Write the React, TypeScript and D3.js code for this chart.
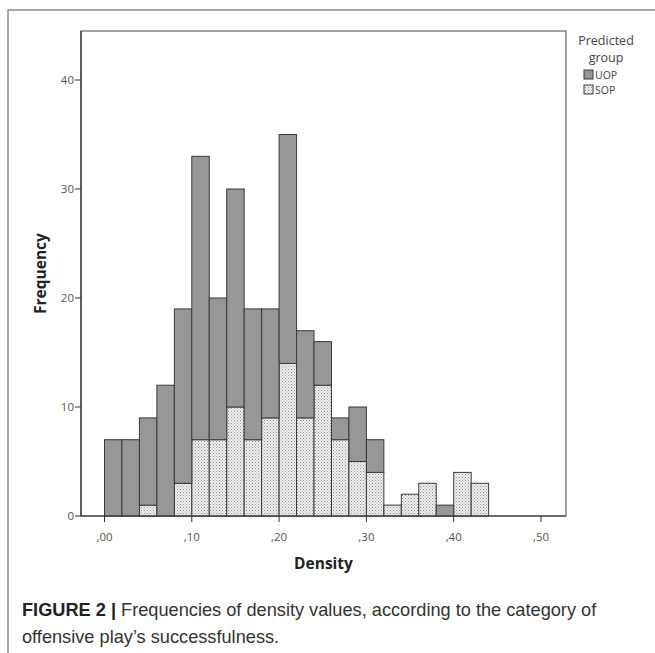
import * as d3 from 'd3';
import React, { useEffect, useRef } from 'react';

// bin starts (width .02), counts per predicted group
const binStarts = [0, .02, .04, .06, .08, .10, .12, .14, .16, .18, .20, .22, .24, .26, .28, .30, .32, .34, .36, .38, .40, .42];
const sopCounts = [0, 0, 1, 0, 3, 7, 7, 10, 7, 9, 14, 9, 12, 7, 5, 4, 1, 2, 3, 0, 4, 3];
const uopCounts = [7, 7, 8, 12, 16, 26, 13, 20, 12, 10, 21, 8, 4, 2, 5, 3, 0, 0, 0, 1, 0, 0];
const binWidth = 0.02;
const xTicks = [0, .1, .2, .3, .4, .5];
const xTickLabels = [',00', ',10', ',20', ',30', ',40', ',50'];
const yTicks = [0, 10, 20, 30, 40];
const groups = ['SOP', 'UOP'];
const legendItems = ['UOP', 'SOP'];

function App() {
    const ref = useRef<SVGSVGElement>(null);

    useEffect(() => {
        const svg = d3.select(ref.current);
        svg.selectAll('*').remove();

        const frame = { left: 81, right: 566, top: 31, bottom: 516 };
        const x = d3.scaleLinear().domain([0, 0.5]).range([104.5, 541]);
        const y = d3.scaleLinear().domain([0, 40]).range([frame.bottom, 80]);

        // dotted fill for SOP
        const pat = svg.append('defs').append('pattern')
            .attr('id', 'dots')
            .attr('patternUnits', 'userSpaceOnUse')
            .attr('width', 3).attr('height', 3);
        pat.append('rect').attr('width', 3).attr('height', 3).attr('fill', '#f1f1f1');
        pat.append('rect').attr('x', 0).attr('y', 0).attr('width', 1).attr('height', 1).attr('fill', '#8f8f8f');
        pat.append('rect').attr('x', 1.5).attr('y', 1.5).attr('width', 1).attr('height', 1).attr('fill', '#a0a0a0');

        const fills: Record<string, string> = { UOP: '#979797', SOP: 'url(#dots)' };

        // outer figure box
        svg.append('path')
            .attr('d', 'M8,653 V10 H655')
            .attr('fill', 'none').attr('stroke', '#8a8a8a').attr('stroke-width', 1.5);

        // plot frame
        svg.append('rect')
            .attr('x', frame.left).attr('y', frame.top)
            .attr('width', frame.right - frame.left).attr('height', frame.bottom - frame.top)
            .attr('fill', 'none').attr('stroke', '#707070').attr('stroke-width', 1.3);

        const rows = binStarts.map((b, i) => ({ b, SOP: sopCounts[i], UOP: uopCounts[i] }));
        const stacked = d3.stack<any>().keys(groups)(rows);

        stacked.forEach(layer => {
            svg.append('g').selectAll('rect')
                .data(layer.filter(d => d[1] > d[0]))
                .enter().append('rect')
                .attr('x', d => x(d.data.b))
                .attr('y', d => y(d[1]))
                .attr('width', x(binWidth) - x(0))
                .attr('height', d => y(d[0]) - y(d[1]))
                .attr('fill', fills[layer.key])
                .attr('stroke', '#3a3a3a')
                .attr('stroke-width', 1);
        });

        // axes lines
        svg.append('line')
            .attr('x1', frame.left).attr('x2', frame.left)
            .attr('y1', frame.top).attr('y2', frame.bottom)
            .attr('stroke', '#333').attr('stroke-width', 1.2);
        svg.append('line')
            .attr('x1', frame.left).attr('x2', frame.right)
            .attr('y1', frame.bottom).attr('y2', frame.bottom)
            .attr('stroke', '#333').attr('stroke-width', 1.2);

        const font = "'Open Sans', sans-serif";

        // y ticks
        const yg = svg.append('g');
        yTicks.forEach(t => {
            yg.append('line')
                .attr('x1', frame.left - 6).attr('x2', frame.left)
                .attr('y1', y(t)).attr('y2', y(t))
                .attr('stroke', '#333');
            yg.append('text')
                .attr('x', frame.left - 7).attr('y', y(t))
                .attr('dy', '0.35em')
                .attr('text-anchor', 'end')
                .attr('font-family', font).attr('font-size', 11.5)
                .attr('fill', '#555')
                .text(t);
        });

        // x ticks
        const xg = svg.append('g');
        xTicks.forEach((t, i) => {
            xg.append('line')
                .attr('x1', x(t)).attr('x2', x(t))
                .attr('y1', frame.bottom).attr('y2', frame.bottom + 6)
                .attr('stroke', '#333');
            xg.append('text')
                .attr('x', x(t)).attr('y', frame.bottom + 25)
                .attr('text-anchor', 'middle')
                .attr('font-family', font).attr('font-size', 11.5)
                .attr('fill', '#555')
                .text(xTickLabels[i]);
        });

        // axis titles
        svg.append('text')
            .attr('x', (frame.left + frame.right) / 2).attr('y', 569)
            .attr('text-anchor', 'middle')
            .attr('font-family', font).attr('font-size', 15.5).attr('font-weight', 'bold')
            .attr('fill', '#222')
            .text('Density');
        svg.append('text')
            .attr('transform', `translate(46,${(frame.top + frame.bottom) / 2}) rotate(-90)`)
            .attr('text-anchor', 'middle')
            .attr('font-family', font).attr('font-size', 15.5).attr('font-weight', 'bold')
            .attr('fill', '#222')
            .text('Frequency');

        // legend
        const lg = svg.append('g');
        lg.append('text').attr('x', 606).attr('y', 45).attr('text-anchor', 'middle')
            .attr('font-family', font).attr('font-size', 12.5).attr('fill', '#444').text('Predicted');
        lg.append('text').attr('x', 606).attr('y', 62).attr('text-anchor', 'middle')
            .attr('font-family', font).attr('font-size', 12.5).attr('fill', '#444').text('group');
        legendItems.forEach((k, i) => {
            lg.append('rect')
                .attr('x', 584).attr('y', 70 + i * 15)
                .attr('width', 9).attr('height', 9)
                .attr('fill', fills[k]).attr('stroke', '#3a3a3a');
            lg.append('text')
                .attr('x', 595).attr('y', 79 + i * 15)
                .attr('font-family', font).attr('font-size', 10.5).attr('fill', '#444')
                .text(k);
        });

        // caption
        const capFont = "'Liberation Sans', Arial, sans-serif";
        const cap = svg.append('text')
            .attr('x', 22).attr('y', 616)
            .attr('font-family', capFont)
            .attr('font-size', 18.2).attr('fill', '#333');
        cap.append('tspan').attr('font-weight', 'bold').attr('fill', '#222').text('FIGURE 2 | ');
        cap.append('tspan').text('Frequencies of density values, according to the category of');
        svg.append('text')
            .attr('x', 22).attr('y', 643)
            .attr('font-family', capFont)
            .attr('font-size', 18.2).attr('fill', '#333')
            .text('offensive play\u2019s successfulness.');
    }, []);

    return (
        <svg ref={ref} width={655} height={653}
            style={{ position: 'absolute', left: 0, top: 0, background: '#fff' }} />
    );
}

export default App;
